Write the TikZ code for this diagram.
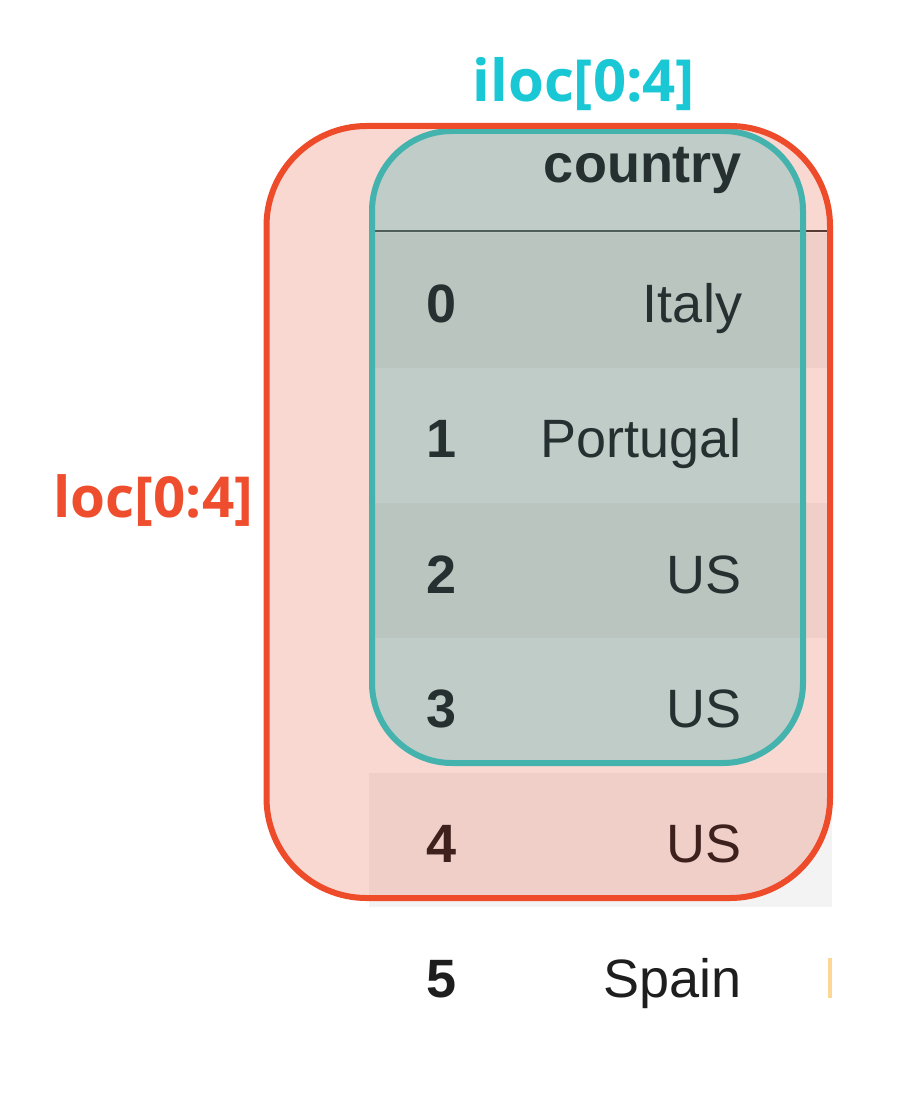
\documentclass[tikz,border=0pt]{standalone}
\usepackage{fontspec}
\setmainfont{Liberation Sans}
\newfontfamily\labelfont{Open Sans}
\definecolor{stripe}{RGB}{243,243,243}
\definecolor{tabtext}{RGB}{30,30,30}
\definecolor{tealtext}{RGB}{38,48,48}
\definecolor{pinktext}{RGB}{62,32,28}
\definecolor{hline}{RGB}{40,45,45}
\definecolor{orangeline}{RGB}{238,75,43}
\definecolor{orangefill}{RGB}{235,103,79}
\definecolor{tealline}{RGB}{68,179,174}
\definecolor{tealfill}{RGB}{63,177,174}
\definecolor{loclab}{RGB}{238,78,45}
\definecolor{iloclab}{RGB}{25,200,212}
\definecolor{nextcol}{RGB}{252,215,150}
\tikzset{
  cell/.style={inner sep=0pt, outer sep=0pt, text=tabtext, font=\fontsize{54}{60}\selectfont},
  idxcell/.style={cell, font=\fontsize{54}{60}\selectfont\bfseries, anchor=base},
  valcell/.style={cell, anchor=base east},
  inteal/.style={text=tealtext},
  inpink/.style={text=pinktext},
  lab/.style={inner sep=0pt, outer sep=0pt, font=\labelfont\fontsize{58}{64}\selectfont\bfseries},
  stripebox/.style={fill=stripe},
}
\begin{document}
\begin{tikzpicture}[x=1pt,y=-1pt]
\useasboundingbox (0,0) rectangle (898,1113);
\fill[white] (0,0) rectangle (898,1113);
% table stripes
\fill[stripebox] (369,233) rectangle (832,368);
\fill[stripebox] (369,503) rectangle (832,638);
\fill[stripebox] (369,773) rectangle (832,907);
\coordinate (hl) at (369,231);
\coordinate (hr) at (830,231);
\draw[hline, line width=2.5] (hl) -- (hr);
\fill[nextcol] (828,958) rectangle (832,998);
% overlays (fills)
\fill[orangefill, fill opacity=0.25, rounded corners=100] (266.5,126) rectangle (830,898);
\fill[tealfill, fill opacity=0.30, rounded corners=80] (372,131) rectangle (803,763);
% header
\node[cell, inteal, font=\fontsize{54}{60}\selectfont\bfseries, anchor=base east] (hdr) at (742,182) {country};
% rows
\node[idxcell, inteal] (i0) at (442,322) {0};
\node[valcell, inteal] (v0) at (742,322) {Italy};
\node[idxcell, inteal] (i1) at (442,457) {1};
\node[valcell, inteal] (v1) at (742,457) {Portugal};
\node[idxcell, inteal] (i2) at (442,593) {2};
\node[valcell, inteal] (v2) at (742,593) {US};
\node[idxcell, inteal] (i3) at (442,727) {3};
\node[valcell, inteal] (v3) at (742,727) {US};
\node[idxcell, inpink] (i4) at (442,862) {4};
\node[valcell, inpink] (v4) at (742,862) {US};
\node[idxcell] (i5) at (442,997) {5};
\node[valcell] (v5) at (742,997) {Spain};
% outlines
\draw[tealline, line width=6, rounded corners=80] (372,131) rectangle (803,763);
\draw[orangeline, line width=6, rounded corners=100] (266.5,126) rectangle (830,898);
% labels
\node[lab, font=\labelfont\fontsize{56.5}{62}\selectfont\bfseries, text=loclab, anchor=base east] (loc) at (253,517) {loc[0:4]};
\node[lab, text=iloclab, anchor=base] (iloc) at (584,102) {iloc[0:4]};
\end{tikzpicture}
\end{document}
